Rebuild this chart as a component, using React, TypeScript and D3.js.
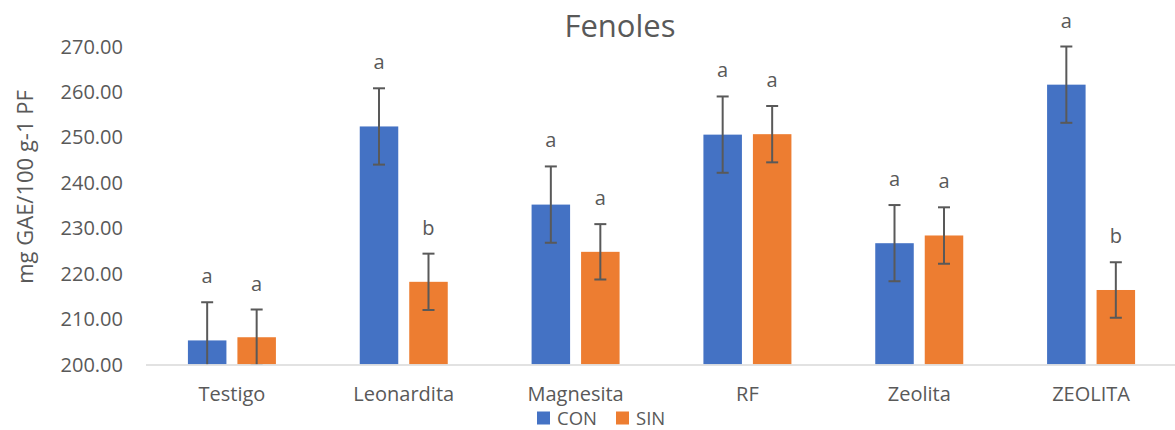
import React from "react";
import * as d3 from "d3";

const categories = ["Testigo", "Leonardita", "Magnesita", "RF", "Zeolita", "ZEOLITA"];
const seriesNames = ["CON", "SIN"];
const conValues = [205.3, 252.4, 235.2, 250.6, 226.7, 261.6];
const sinValues = [206.0, 218.2, 224.8, 250.7, 228.4, 216.4];
const conErrors = [8.4, 8.4, 8.4, 8.4, 8.4, 8.4];
const sinErrors = [6.1, 6.2, 6.1, 6.2, 6.2, 6.1];
const conLetters = ["a", "a", "a", "a", "a", "a"];
const sinLetters = ["a", "b", "a", "a", "a", "b"];
const yTicks = [200, 210, 220, 230, 240, 250, 260, 270];
const colors = ["#4472C4", "#ED7D31"];

const W = 1175;
const H = 430;
const FONT = "'Open Sans', 'Noto Sans', sans-serif";
const TEXT = "#595959";

export default function App() {
  const left = 146;
  const right = 1177;
  const y = d3.scaleLinear().domain([200, 270]).range([364.5, 46.5]);
  const x0 = d3.scaleBand<string>().domain(categories).range([left, right]).padding(0);
  const groupW = 88;
  const x1 = d3
    .scaleBand<string>()
    .domain(seriesNames)
    .range([0, groupW])
    .paddingInner(0.222)
    .paddingOuter(0);
  const offset = (x0.bandwidth() - groupW) / 2;

  const series = [
    { name: "CON", values: conValues, errors: conErrors, letters: conLetters },
    { name: "SIN", values: sinValues, errors: sinErrors, letters: sinLetters },
  ];

  const yBase = y(200);

  return (
    <svg width={W} height={H} style={{ display: "block", position: "absolute", left: 0, top: 0 }}>
      <defs>
        <clipPath id="plot">
          <rect x={left} y={0} width={right - left} height={yBase} />
        </clipPath>
      </defs>
      <rect width={W} height={H} fill="#fff" />
      <text x={620} y={37} textAnchor="middle" fontFamily={FONT} fontSize={31} fill={TEXT}>
        Fenoles
      </text>
      <text
        transform={`translate(33, 187) rotate(-90)`}
        textAnchor="middle"
        fontFamily={FONT}
        fontSize={22}
        fill={TEXT}
      >
        mg GAE/100 g-1 PF
      </text>
      {yTicks.map((t) => (
        <text
          key={t}
          x={123}
          y={y(t)}
          dy="0.35em"
          textAnchor="end"
          fontFamily={FONT}
          fontSize={20}
          fill={TEXT}
        >
          {t.toFixed(2)}
        </text>
      ))}
      <g clipPath="url(#plot)">
        {series.map((s, si) =>
          categories.map((c, ci) => {
            const bx = (x0(c) as number) + offset + (x1(s.name) as number);
            const bw = x1.bandwidth();
            const v = s.values[ci];
            return (
              <rect
                key={s.name + c}
                x={bx}
                y={y(v)}
                width={bw}
                height={yBase - y(v)}
                fill={colors[si]}
              />
            );
          })
        )}
        {series.map((s) =>
          categories.map((c, ci) => {
            const cx = (x0(c) as number) + offset + (x1(s.name) as number) + x1.bandwidth() / 2;
            const v = s.values[ci];
            const e = s.errors[ci];
            const yt = y(v + e);
            const yb = y(v - e);
            return (
              <g key={"e" + s.name + c} stroke="#595959" strokeWidth={2}>
                <line x1={cx} x2={cx} y1={yt} y2={yb} />
                <line x1={cx - 6} x2={cx + 6} y1={yt} y2={yt} />
                <line x1={cx - 6} x2={cx + 6} y1={yb} y2={yb} />
              </g>
            );
          })
        )}
      </g>
      <line x1={left} x2={right} y1={yBase + 0.5} y2={yBase + 0.5} stroke="#d9d9d9" strokeWidth={1.5} />
      {series.map((s) =>
        categories.map((c, ci) => {
          const cx = (x0(c) as number) + offset + (x1(s.name) as number) + x1.bandwidth() / 2;
          const v = s.values[ci];
          const e = s.errors[ci];
          return (
            <text
              key={"l" + s.name + c}
              x={cx}
              y={y(v + e) - 19}
              textAnchor="middle"
              fontFamily={FONT}
              fontSize={20}
              fill={TEXT}
            >
              {s.letters[ci]}
            </text>
          );
        })
      )}
      {categories.map((c) => (
        <text
          key={"c" + c}
          x={(x0(c) as number) + x0.bandwidth() / 2}
          y={401}
          textAnchor="middle"
          fontFamily={FONT}
          fontSize={20}
          fill={TEXT}
        >
          {c}
        </text>
      ))}
      {seriesNames.map((n, i) => {
        const lx = 537 + i * 79;
        return (
          <g key={"lg" + n}>
            <rect x={lx} y={411.5} width={13} height={13} fill={colors[i]} />
            <text x={lx + 20} y={424.5} fontFamily={FONT} fontSize={18.5} fill={TEXT}>
              {n}
            </text>
          </g>
        );
      })}
    </svg>
  );
}
